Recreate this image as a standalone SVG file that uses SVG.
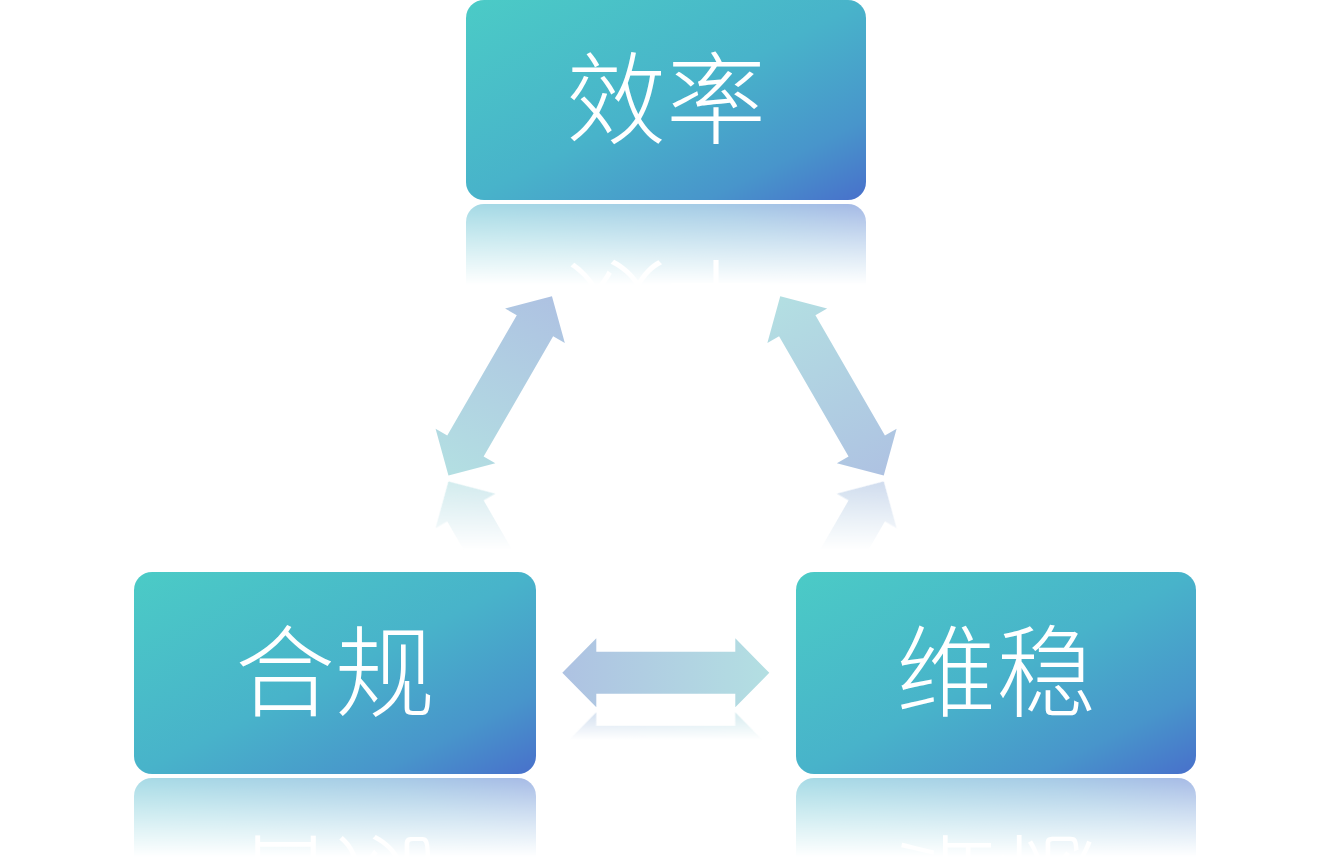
<svg xmlns="http://www.w3.org/2000/svg" xmlns:xlink="http://www.w3.org/1999/xlink" width="1332" height="868" viewBox="0 0 1332 868">
  <style>
    .box { fill: url(#boxGrad); }
    .lbl { font-family: "Noto Sans CJK SC", "Noto Sans", sans-serif; font-size: 100px; font-weight: 300; fill: #ffffff; text-anchor: middle; }
    .arrow { fill: url(#arrowGrad); }
  </style>
  <defs>
    <linearGradient id="boxGrad" x1="0" y1="0" x2="1" y2="1">
      <stop offset="0" stop-color="#4BCBC6"/>
      <stop offset="0.5" stop-color="#48B3CA"/>
      <stop offset="0.8" stop-color="#4895CB"/>
      <stop offset="1" stop-color="#4870CB"/>
    </linearGradient>
    <linearGradient id="arrowGrad" x1="0" y1="0" x2="1" y2="0">
      <stop offset="0" stop-color="#B3DFE2"/>
      <stop offset="1" stop-color="#AEC2E2"/>
    </linearGradient>
    <linearGradient id="fade" x1="0" y1="0" x2="0" y2="1">
      <stop offset="0" stop-color="#ffffff" stop-opacity="0.5"/>
      <stop offset="1" stop-color="#ffffff" stop-opacity="0"/>
    </linearGradient>
    <linearGradient id="fadeArrow" x1="0" y1="0" x2="0" y2="1">
      <stop offset="0" stop-color="#ffffff" stop-opacity="0.6"/>
      <stop offset="1" stop-color="#ffffff" stop-opacity="0"/>
    </linearGradient>
    <mask id="boxRefl" maskUnits="userSpaceOnUse" x="-10" y="195" width="430" height="110">
      <rect x="-5" y="203" width="415" height="82" fill="url(#fade)"/>
    </mask>
    <mask id="arrowRefl" maskUnits="userSpaceOnUse" x="0" y="0" width="1332" height="868">
      <rect x="425" y="480" width="90" height="70" fill="url(#fadeArrow)"/>
      <rect x="817" y="480" width="90" height="70" fill="url(#fadeArrow)"/>
      <rect x="555" y="710" width="222" height="30" fill="url(#fadeArrow)"/>
    </mask>
    <path id="arrowShape" class="arrow" d="M-103.5,0 L-69.5,-34.5 L-69.5,-21 L69.5,-21 L69.5,-34.5 L103.5,0 L69.5,34.5 L69.5,21 L-69.5,21 L-69.5,34.5 Z"/>
  </defs>

  <g id="connectors">
    <use id="arrow-left" xlink:href="#arrowShape" href="#arrowShape" transform="translate(500.2,385.9) rotate(-60)"/>
    <use id="arrow-right" xlink:href="#arrowShape" href="#arrowShape" transform="translate(832,385.9) rotate(60)"/>
    <use id="arrow-bottom" xlink:href="#arrowShape" href="#arrowShape" transform="translate(665.8,672.8) rotate(180)"/>
    <g mask="url(#arrowRefl)">
      <g transform="translate(0,957) scale(1,-1)">
        <use xlink:href="#arrowShape" href="#arrowShape" transform="translate(500.2,385.9) rotate(-60)"/>
        <use xlink:href="#arrowShape" href="#arrowShape" transform="translate(832,385.9) rotate(60)"/>
      </g>
      <g transform="translate(0,1419.6) scale(1,-1)">
        <use xlink:href="#arrowShape" href="#arrowShape" transform="translate(665.8,672.8) rotate(180)"/>
      </g>
    </g>
  </g>

  <g id="node-efficiency" transform="translate(466,0)">
    <g id="c-efficiency">
      <rect class="box" x="0" y="0" width="400" height="200" rx="18"/>
      <text class="lbl" x="200" y="136">效率</text>
    </g>
    <g mask="url(#boxRefl)">
      <use xlink:href="#c-efficiency" href="#c-efficiency" transform="translate(0,404) scale(1,-1)"/>
    </g>
  </g>

  <g id="node-compliance" transform="translate(134,572)">
    <g id="c-compliance">
      <rect class="box" x="0" y="0" width="402" height="202" rx="18"/>
      <text class="lbl" x="201" y="137">合规</text>
    </g>
    <g mask="url(#boxRefl)">
      <use xlink:href="#c-compliance" href="#c-compliance" transform="translate(0,408) scale(1,-1)"/>
    </g>
  </g>

  <g id="node-stability" transform="translate(796,572)">
    <g id="c-stability">
      <rect class="box" x="0" y="0" width="400" height="202" rx="18"/>
      <text class="lbl" x="200" y="137">维稳</text>
    </g>
    <g mask="url(#boxRefl)">
      <use xlink:href="#c-stability" href="#c-stability" transform="translate(0,408) scale(1,-1)"/>
    </g>
  </g>
</svg>
